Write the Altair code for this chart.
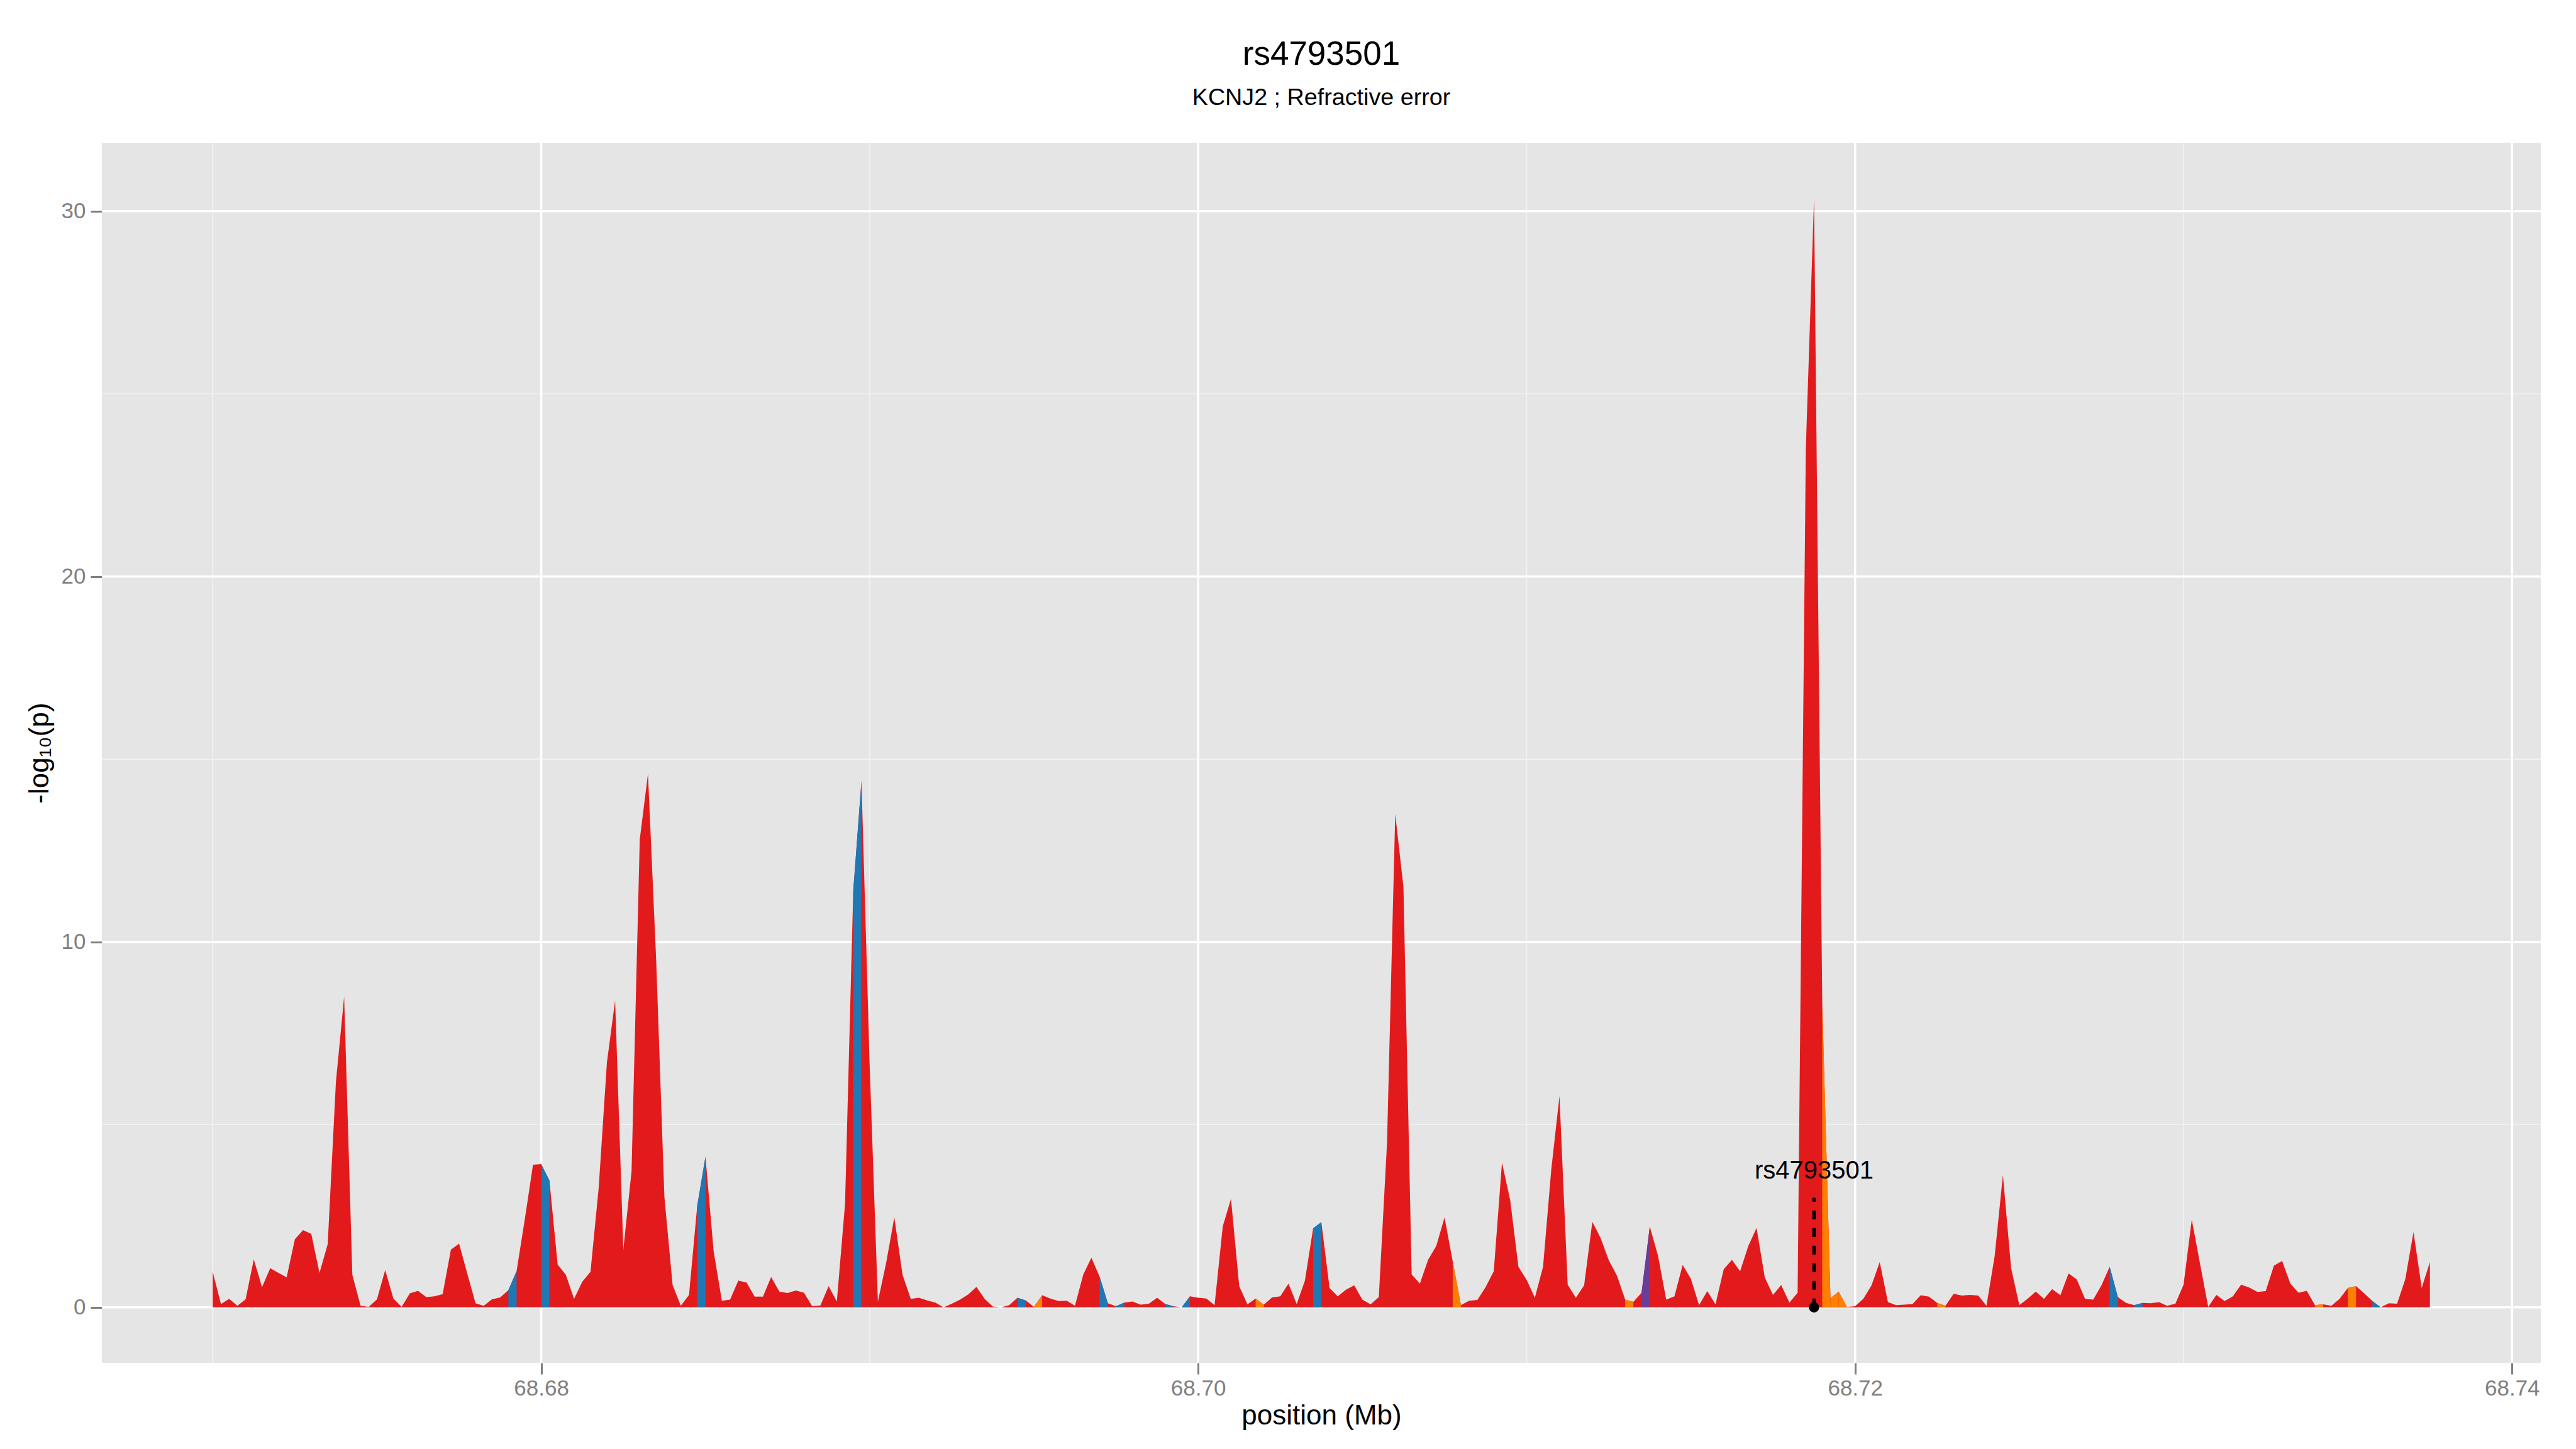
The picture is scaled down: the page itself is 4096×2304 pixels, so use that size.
import altair as alt
import pandas as pd

# ---------------- data ----------------
positions = [
    68.67000, 68.67025, 68.67050, 68.67075, 68.67100, 68.67125, 68.67150, 68.67175, 68.67200, 68.67225,
    68.67250, 68.67275, 68.67300, 68.67325, 68.67350, 68.67375, 68.67400, 68.67425, 68.67450, 68.67475,
    68.67500, 68.67525, 68.67550, 68.67575, 68.67600, 68.67625, 68.67650, 68.67675, 68.67700, 68.67725,
    68.67750, 68.67775, 68.67800, 68.67825, 68.67850, 68.67875, 68.67900, 68.67925, 68.67950, 68.67975,
    68.68000, 68.68025, 68.68050, 68.68075, 68.68100, 68.68125, 68.68150, 68.68175, 68.68200, 68.68225,
    68.68250, 68.68275, 68.68300, 68.68325, 68.68350, 68.68375, 68.68400, 68.68425, 68.68450, 68.68475,
    68.68500, 68.68525, 68.68550, 68.68575, 68.68600, 68.68625, 68.68650, 68.68675, 68.68700, 68.68725,
    68.68750, 68.68775, 68.68800, 68.68825, 68.68850, 68.68875, 68.68900, 68.68925, 68.68950, 68.68975,
    68.69000, 68.69025, 68.69050, 68.69075, 68.69100, 68.69125, 68.69150, 68.69175, 68.69200, 68.69225,
    68.69250, 68.69275, 68.69300, 68.69325, 68.69350, 68.69375, 68.69400, 68.69425, 68.69450, 68.69475,
    68.69500, 68.69525, 68.69550, 68.69575, 68.69600, 68.69625, 68.69650, 68.69675, 68.69700, 68.69725,
    68.69750, 68.69775, 68.69800, 68.69825, 68.69850, 68.69875, 68.69900, 68.69925, 68.69950, 68.69975,
    68.70000, 68.70025, 68.70050, 68.70075, 68.70100, 68.70125, 68.70150, 68.70175, 68.70200, 68.70225,
    68.70250, 68.70275, 68.70300, 68.70325, 68.70350, 68.70375, 68.70400, 68.70425, 68.70450, 68.70475,
    68.70500, 68.70525, 68.70550, 68.70575, 68.70600, 68.70625, 68.70650, 68.70675, 68.70700, 68.70725,
    68.70750, 68.70775, 68.70800, 68.70825, 68.70850, 68.70875, 68.70900, 68.70925, 68.70950, 68.70975,
    68.71000, 68.71025, 68.71050, 68.71075, 68.71100, 68.71125, 68.71150, 68.71175, 68.71200, 68.71225,
    68.71250, 68.71275, 68.71300, 68.71325, 68.71350, 68.71375, 68.71400, 68.71425, 68.71450, 68.71475,
    68.71500, 68.71525, 68.71550, 68.71575, 68.71600, 68.71625, 68.71650, 68.71675, 68.71700, 68.71725,
    68.71750, 68.71775, 68.71800, 68.71825, 68.71850, 68.71875, 68.71900, 68.71925, 68.71950, 68.71975,
    68.72000, 68.72025, 68.72050, 68.72075, 68.72100, 68.72125, 68.72150, 68.72175, 68.72200, 68.72225,
    68.72250, 68.72275, 68.72300, 68.72325, 68.72350, 68.72375, 68.72400, 68.72425, 68.72450, 68.72475,
    68.72500, 68.72525, 68.72550, 68.72575, 68.72600, 68.72625, 68.72650, 68.72675, 68.72700, 68.72725,
    68.72750, 68.72775, 68.72800, 68.72825, 68.72850, 68.72875, 68.72900, 68.72925, 68.72950, 68.72975,
    68.73000, 68.73025, 68.73050, 68.73075, 68.73100, 68.73125, 68.73150, 68.73175, 68.73200, 68.73225,
    68.73250, 68.73275, 68.73300, 68.73325, 68.73350, 68.73375, 68.73400, 68.73425, 68.73450, 68.73475,
    68.73500, 68.73525, 68.73550, 68.73575, 68.73600, 68.73625, 68.73650, 68.73675, 68.73700, 68.73725,
    68.73750,
]

logp = [
    0.97, 0.09, 0.23, 0.04, 0.22, 1.31, 0.55, 1.07, 0.94, 0.82,
    1.86, 2.11, 2.01, 0.94, 1.73, 6.17, 8.50, 0.89, 0.04, 0.01,
    0.22, 1.02, 0.24, 0.01, 0.38, 0.45, 0.28, 0.30, 0.36, 1.58,
    1.74, 0.92, 0.11, 0.04, 0.22, 0.27, 0.47, 0.99, 2.41, 3.90,
    3.92, 3.47, 1.17, 0.89, 0.23, 0.70, 0.97, 3.27, 6.70, 8.40,
    1.58, 3.72, 12.80, 14.60, 9.50, 3.03, 0.61, 0.04, 0.34, 2.78,
    4.12, 1.53, 0.18, 0.21, 0.73, 0.68, 0.29, 0.29, 0.83, 0.43,
    0.39, 0.46, 0.40, 0.03, 0.05, 0.58, 0.16, 2.83, 11.40, 14.40,
    6.60, 0.16, 1.21, 2.46, 0.89, 0.23, 0.26, 0.19, 0.13, 0.00,
    0.10, 0.21, 0.35, 0.56, 0.23, 0.02, 0.00, 0.06, 0.26, 0.19,
    0.01, 0.33, 0.24, 0.17, 0.18, 0.04, 0.89, 1.36, 0.84, 0.11,
    0.03, 0.13, 0.16, 0.07, 0.10, 0.26, 0.09, 0.03, 0.00, 0.30,
    0.26, 0.24, 0.06, 2.22, 2.97, 0.58, 0.08, 0.24, 0.07, 0.27,
    0.30, 0.65, 0.09, 0.73, 2.16, 2.33, 0.53, 0.30, 0.48, 0.60,
    0.21, 0.08, 0.28, 4.50, 13.50, 11.50, 0.90, 0.65, 1.30, 1.68,
    2.46, 1.26, 0.06, 0.18, 0.20, 0.55, 0.99, 3.96, 2.93, 1.11,
    0.75, 0.26, 1.11, 3.77, 5.78, 0.62, 0.26, 0.60, 2.34, 1.90,
    1.29, 0.87, 0.21, 0.15, 0.40, 2.21, 1.41, 0.21, 0.30, 1.16,
    0.78, 0.06, 0.44, 0.08, 1.04, 1.30, 0.99, 1.68, 2.17, 0.82,
    0.34, 0.61, 0.13, 0.40, 23.50, 30.35, 8.30, 0.25, 0.43, 0.01,
    0.03, 0.23, 0.60, 1.24, 0.14, 0.06, 0.07, 0.09, 0.33, 0.29,
    0.12, 0.04, 0.37, 0.32, 0.34, 0.32, 0.04, 1.41, 3.62, 1.07,
    0.06, 0.23, 0.43, 0.23, 0.50, 0.33, 0.93, 0.76, 0.23, 0.21,
    0.60, 1.11, 0.28, 0.12, 0.06, 0.12, 0.11, 0.14, 0.04, 0.10,
    0.62, 2.40, 1.20, 0.01, 0.34, 0.17, 0.30, 0.62, 0.54, 0.42,
    0.44, 1.14, 1.27, 0.65, 0.40, 0.45, 0.06, 0.08, 0.04, 0.23,
    0.53, 0.58, 0.38, 0.17, 0.00, 0.11, 0.10, 0.77, 2.06, 0.53,
    1.24,
]

# intervals (index of first point) that are not drawn in the default red
blue_intervals = [36, 40, 59, 78, 98, 108, 110, 116, 118, 134, 231, 234, 263]
orange_intervals = [100, 127, 151, 172, 196, 197, 198, 210, 256, 260]
purple_intervals = [174]

ld_categories = ["red", "blue", "orange", "purple"]
ld_colors = ["#E31A1C", "#1F78B4", "#FF7F00", "#6A3D9A"]

lead_snp = ["rs4793501"]
lead_pos = [68.71875]
lead_line_top = [3.0]
lead_label_y = [3.52]

x_major = [68.68, 68.70, 68.72, 68.74]
x_minor = [68.67, 68.69, 68.71, 68.73]
y_major = [0, 10, 20, 30]
y_minor = [5, 15, 25]

x_domain = [68.666625, 68.740875]
y_domain = [-1.52, 31.87]

# ---------------- tables ----------------
df = pd.DataFrame({"pos": positions, "logp": logp})
df["base"] = 0.0

seg_rows = []
for cat, starts in (("blue", blue_intervals), ("orange", orange_intervals), ("purple", purple_intervals)):
    for s in starts:
        for j in (s, s + 1):
            seg_rows.append({"pos": positions[j], "logp": logp[j], "base": 0.0,
                             "seg": f"{cat}{s}", "ld": cat})
seg_df = pd.DataFrame(seg_rows)

lead_df = pd.DataFrame({"pos": lead_pos, "top": lead_line_top, "base": [0.0],
                        "label_y": lead_label_y, "snp": lead_snp})

FONT = "Liberation Sans"
GREY = "#7F7F7F"

xsc = alt.Scale(domain=x_domain, nice=False, zero=False)
ysc = alt.Scale(domain=y_domain, nice=False, zero=False)

x_axis = alt.Axis(values=x_major, format=".2f", title="position (Mb)", grid=False, domain=False,
                  tickColor=GREY, tickSize=18, tickWidth=3, labelColor=GREY, labelFontSize=35,
                  labelFont=FONT, labelPadding=5, titleFont=FONT, titleFontSize=44,
                  titleFontWeight="normal", titleColor="black", titlePadding=4)
y_axis = alt.Axis(values=y_major, format="d", title="-log₁₀(p)", grid=False, domain=False,
                  tickColor=GREY, tickSize=18, tickWidth=3, labelColor=GREY, labelFontSize=35,
                  labelFont=FONT, labelPadding=8, titleFont=FONT, titleFontSize=44,
                  titleFontWeight="normal", titleColor="black", titlePadding=12)


def X(field="pos"):
    return alt.X(f"{field}:Q", scale=xsc, axis=x_axis)


def Y(field):
    return alt.Y(f"{field}:Q", scale=ysc, axis=y_axis)


minor_v = alt.Chart(pd.DataFrame({"pos": x_minor})).mark_rule(
    color="#F2F2F2", strokeWidth=1.8).encode(x=X())
minor_h = alt.Chart(pd.DataFrame({"v": y_minor})).mark_rule(
    color="#F2F2F2", strokeWidth=1.8).encode(y=Y("v"))
major_v = alt.Chart(pd.DataFrame({"pos": x_major})).mark_rule(
    color="white", strokeWidth=3.5).encode(x=X())
major_h = alt.Chart(pd.DataFrame({"v": y_major})).mark_rule(
    color="white", strokeWidth=3.5).encode(y=Y("v"))

area_red = alt.Chart(df).mark_area(color=ld_colors[0], interpolate="linear").encode(
    x=X(), y=Y("logp"), y2="base:Q")

area_ld = alt.Chart(seg_df).mark_area(interpolate="linear").encode(
    x=X(), y=Y("logp"), y2="base:Q", detail="seg:N",
    color=alt.Color("ld:N", scale=alt.Scale(domain=ld_categories, range=ld_colors), legend=None))

lead_line = alt.Chart(lead_df).mark_rule(
    color="black", strokeWidth=5.5, strokeDash=[14, 14]).encode(
    x=X(), y=Y("base"), y2="top:Q")
lead_point = alt.Chart(lead_df).mark_point(
    filled=True, color="black", size=270, opacity=1, shape="circle").encode(x=X(), y=Y("base"))
lead_text = alt.Chart(lead_df).mark_text(
    font=FONT, fontSize=40, color="black", align="center", baseline="alphabetic").encode(
    x=X(), y=Y("label_y"), text="snp:N")

chart = alt.layer(
    minor_v, minor_h, major_v, major_h, area_red, area_ld, lead_line, lead_point, lead_text
).properties(
    width=3878,
    height=1940,
    autosize=alt.AutoSizeParams(type="none"),
    padding={"left": 154, "top": 219, "right": 40, "bottom": 120},
    title=alt.Title(
        "rs4793501",
        subtitle="KCNJ2 ; Refractive error",
        font=FONT, fontSize=53, fontWeight="normal", color="black",
        subtitleFont=FONT, subtitleFontSize=37.7, subtitleColor="black",
        subtitlePadding=23, anchor="middle", offset=51,
    ),
).configure(font=FONT).configure_view(fill="#E5E5E5", stroke=None)

chart.save("out.html", embed_options={"renderer": "svg", "actions": False})
